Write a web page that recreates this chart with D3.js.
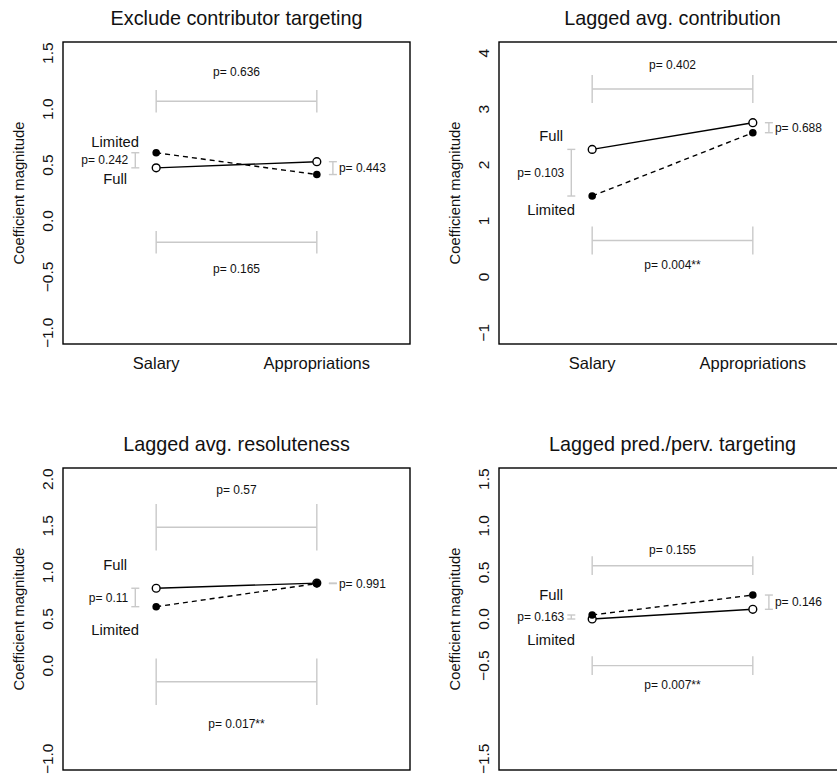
<!DOCTYPE html>
<html>
<head>
<meta charset="utf-8">
<script src="https://cdn.jsdelivr.net/npm/d3@7"></script>
<style>
  html, body { margin: 0; padding: 0; background: #fff; }
  svg { display: block; font-family: "Liberation Sans", Arial, Helvetica, sans-serif; }
</style>
</head>
<body>
<svg id="chart" width="837" height="774"></svg>
<script>
// ---------------- data ----------------
const titles = ["Exclude contributor targeting", "Lagged avg. contribution", "Lagged avg. resoluteness", "Lagged pred./perv. targeting"];
const categories = ["Salary", "Appropriations"];
const fullValues = [[0.475, 0.53], [2.28, 2.757], [0.83, 0.885], [0.0, 0.104]];
const limitedValues = [[0.61, 0.415], [1.446, 2.578], [0.632, 0.88], [0.043, 0.257]];
const yLimits = [[-1, 1.5], [-1, 4], [-1, 2], [-1.5, 1.5]];
const yTicks = [[-1, -0.5, 0, 0.5, 1, 1.5], [-1, 0, 1, 2, 3, 4], [-1, 0, 0.5, 1, 1.5, 2], [-1.5, -0.5, 0, 0.5, 1, 1.5]];
const yTickFormat = [".1f", "d", ".1f", ".1f"];
const pSalary = ["p= 0.242", "p= 0.103", "p= 0.11", "p= 0.163"];
const pAppropriations = ["p= 0.443", "p= 0.688", "p= 0.991", "p= 0.146"];
const pTop = ["p= 0.636", "p= 0.402", "p= 0.57", "p= 0.155"];
const pBottom = ["p= 0.165", "p= 0.004**", "p= 0.017**", "p= 0.007**"];
const topBarValue = [1.07, 3.36, 1.484, 0.572];
const bottomBarValue = [-0.19, 0.65, -0.173, -0.5];
const upperName = ["Limited", "Full", "Full", "Full"];

// ---------------- layout (not data) ----------------
const capHalf = [0.1, 0.25, 0.25, 0.1];
const pGapTop = [0.26, 0.43, 0.4, 0.17];
const pGapBottom = [0.24, 0.44, 0.45, 0.21];
const nameGap = [0.1, 0.25, 0.25, 0.22];
const origins = [[63, 42], [499, 42], [63, 468], [499, 468]];
const boxW = 347, boxH = 302;
const GRAY = "#c9c9c9";

const svg = d3.select("#chart");

titles.forEach((title, i) => {
  const [ox, oy] = origins[i];
  const g = svg.append("g").attr("transform", `translate(${ox},${oy})`);
  const lo = yLimits[i][0], hi = yLimits[i][1], pad = (hi - lo) * 0.04;
  const y = d3.scaleLinear().domain([lo - pad, hi + pad]).range([boxH, 0]);
  const x = d3.scaleLinear().domain([0.42, 2.58]).range([0, boxW]);
  const xs = categories.map((c, k) => x(k + 1));

  // title
  g.append("text").attr("x", boxW / 2).attr("y", -17.5)
    .attr("text-anchor", "middle").attr("font-size", 19.8).attr("fill", "#111").text(title);

  // y tick labels (rotated, no tick marks)
  const fmt = d3.format(yTickFormat[i]);
  g.selectAll(".ytl").data(yTicks[i]).enter().append("text")
    .attr("transform", d => `translate(-10,${y(d)}) rotate(-90)`)
    .attr("text-anchor", "middle").attr("font-size", 15.5).attr("fill", "#111")
    .text(d => fmt(d));

  // y axis title
  g.append("text").attr("transform", `translate(-39,${boxH / 2}) rotate(-90)`)
    .attr("text-anchor", "middle").attr("font-size", 14.8).attr("fill", "#111")
    .text("Coefficient magnitude");

  // x labels (only if inside the picture)
  if (oy + boxH + 30 < 774) {
    g.selectAll(".xtl").data(categories).enter().append("text")
      .attr("x", (d, k) => x(k + 1)).attr("y", boxH + 25)
      .attr("text-anchor", "middle").attr("font-size", 16.5).attr("fill", "#111")
      .text(d => d);
  }

  // gray comparison bars (top: full, bottom: limited)
  const drawHBar = (val, label, gap, above) => {
    g.append("line").attr("x1", xs[0]).attr("x2", xs[1]).attr("y1", y(val)).attr("y2", y(val))
      .attr("stroke", GRAY).attr("stroke-width", 1.4);
    xs.forEach(xx => {
      g.append("line").attr("x1", xx).attr("x2", xx)
        .attr("y1", y(val - capHalf[i])).attr("y2", y(val + capHalf[i]))
        .attr("stroke", GRAY).attr("stroke-width", 1.4);
    });
    g.append("text").attr("x", (xs[0] + xs[1]) / 2).attr("y", y(above ? val + gap : val - gap))
      .attr("dy", "0.35em").attr("text-anchor", "middle").attr("font-size", 12).attr("fill", "#111")
      .text(label);
  };
  drawHBar(topBarValue[i], pTop[i], pGapTop[i], true);
  drawHBar(bottomBarValue[i], pBottom[i], pGapBottom[i], false);

  // small vertical bars between series at each category
  const vbar = (k, xpos, label, leftSide) => {
    const a = fullValues[i][k], b = limitedValues[i][k];
    const xx = x(xpos);
    g.append("line").attr("x1", xx).attr("x2", xx).attr("y1", y(a)).attr("y2", y(b))
      .attr("stroke", GRAY).attr("stroke-width", 1.4);
    [a, b].forEach(v => g.append("line").attr("x1", xx - 4).attr("x2", xx + 4)
      .attr("y1", y(v)).attr("y2", y(v)).attr("stroke", GRAY).attr("stroke-width", 1.4));
    g.append("text").attr("x", leftSide ? xx - 7 : xx + 6).attr("y", y((a + b) / 2))
      .attr("dy", "0.35em").attr("text-anchor", leftSide ? "end" : "start")
      .attr("font-size", 12).attr("fill", "#111").text(label);
  };
  vbar(0, 1 - 0.13, pSalary[i], true);
  vbar(1, 2 + 0.1, pAppropriations[i], false);

  // series lines
  const line = d3.line().x((d, k) => x(k + 1)).y(d => y(d));
  g.append("path").attr("d", line(fullValues[i])).attr("fill", "none")
    .attr("stroke", "#000").attr("stroke-width", 1.4);
  g.append("path").attr("d", line(limitedValues[i])).attr("fill", "none")
    .attr("stroke", "#000").attr("stroke-width", 1.4).attr("stroke-dasharray", "5,4");

  // points: full open, limited filled on top
  g.selectAll(".pf").data(fullValues[i]).enter().append("circle")
    .attr("cx", (d, k) => x(k + 1)).attr("cy", d => y(d)).attr("r", 3.9)
    .attr("fill", "#fff").attr("stroke", "#000").attr("stroke-width", 1.4);
  g.selectAll(".pl").data(limitedValues[i]).enter().append("circle")
    .attr("cx", (d, k) => x(k + 1)).attr("cy", d => y(d)).attr("r", 3.8)
    .attr("fill", "#000");

  // series name labels near Salary
  const f0 = fullValues[i][0], l0 = limitedValues[i][0];
  const top0 = Math.max(f0, l0), bot0 = Math.min(f0, l0);
  const lowerName = upperName[i] === "Full" ? "Limited" : "Full";
  [[upperName[i], top0 + nameGap[i]], [lowerName, bot0 - nameGap[i]]].forEach(([nm, v]) => {
    g.append("text").attr("x", x(1 - 0.255)).attr("y", y(v)).attr("dy", "0.35em")
      .attr("text-anchor", "middle").attr("font-size", 14.8).attr("fill", "#111").text(nm);
  });

  // box
  g.append("rect").attr("x", 0).attr("y", 0).attr("width", boxW).attr("height", boxH)
    .attr("fill", "none").attr("stroke", "#000").attr("stroke-width", 1.4);
});
</script>
</body>
</html>
